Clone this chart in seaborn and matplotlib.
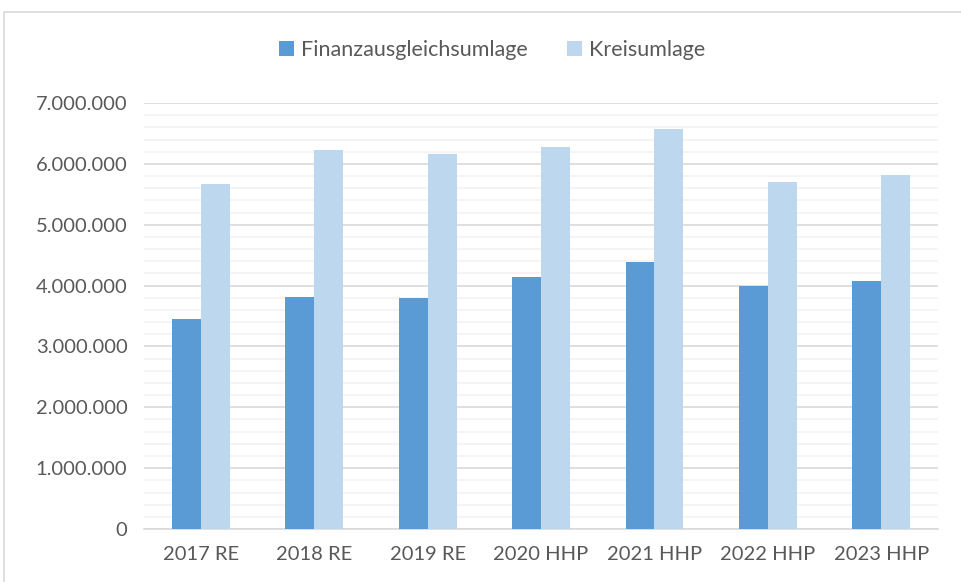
import matplotlib
matplotlib.use("Agg")
import matplotlib.pyplot as plt
import matplotlib.ticker as mticker
from matplotlib.patches import Rectangle
import pandas as pd
import seaborn as sns

# values
jahre = ["2017 RE", "2018 RE", "2019 RE", "2020 HHP", "2021 HHP", "2022 HHP", "2023 HHP"]
finanzausgleichsumlage = [3450000, 3810000, 3790000, 4140000, 4380000, 3990000, 4070000]
kreisumlage = [5665000, 6220000, 6160000, 6270000, 6570000, 5700000, 5810000]
serien = ["Finanzausgleichsumlage", "Kreisumlage"]
farben = ["#5b9bd5", "#bdd7ee"]

df = pd.DataFrame({
    "Jahr": jahre * 2,
    "Serie": [serien[0]] * len(jahre) + [serien[1]] * len(jahre),
    "Wert": finanzausgleichsumlage + kreisumlage,
})

sns.set_theme(style="white")
plt.rcParams["font.family"] = ["Lato", "DejaVu Sans"]
text_color = "#595959"

fig = plt.figure(figsize=(9.61, 5.82), dpi=100, facecolor="white")
ax = fig.add_axes([0.15, 0.091, 0.826, 0.732])

sns.barplot(data=df, x="Jahr", y="Wert", hue="Serie", palette=farben,
            width=0.51, saturation=1, linewidth=0, ax=ax, zorder=3)

ax.set_ylim(0, 7000000)
ax.yaxis.set_major_locator(mticker.MultipleLocator(1000000))
ax.yaxis.set_minor_locator(mticker.MultipleLocator(200000))
ax.yaxis.set_major_formatter(mticker.FuncFormatter(lambda v, p: f"{int(v):,}".replace(",", ".")))
ax.grid(axis="y", which="major", color="#d9d9d9", linewidth=1.2, zorder=0)
ax.grid(axis="y", which="minor", color="#f2f2f2", linewidth=1.2, zorder=0)
ax.set_axisbelow(True)

for s in ["top", "left", "right"]:
    ax.spines[s].set_visible(False)
ax.spines["bottom"].set_color("#d9d9d9")
ax.spines["bottom"].set_linewidth(1.2)

ax.set_xlabel("")
ax.set_ylabel("")
ax.tick_params(axis="both", which="both", length=0, colors=text_color, labelsize=14.5)
ax.tick_params(axis="x", pad=12)
ax.tick_params(axis="y", pad=12)

ax.legend(loc="center", ncol=2, frameon=False, fontsize=15.5, handlelength=0.7,
          handleheight=0.7, handletextpad=0.35, columnspacing=1.8, labelcolor=text_color)
leg = ax.get_legend()
leg.set_bbox_to_anchor((0.512, 0.914), transform=fig.transFigure)

fig.patches.append(Rectangle((0.004, -0.01), 1.0, 0.99, transform=fig.transFigure,
                             fill=False, edgecolor="#d9d9d9", linewidth=1.2))

plt.savefig("out.png", dpi=100, facecolor="white")
